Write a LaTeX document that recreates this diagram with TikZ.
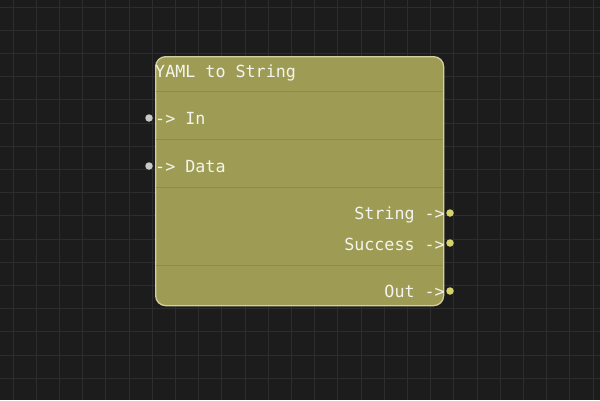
\documentclass[tikz,border=0pt]{standalone}
\usepackage{fontspec}
\setmonofont{DejaVu Sans Mono}
\definecolor{bg}{HTML}{1C1C1C}
\definecolor{gridc}{HTML}{2D2D2D}
\definecolor{nodefill}{HTML}{A4A257}
\definecolor{nodeborder}{HTML}{D2D09C}
\definecolor{sepc}{HTML}{8C8A55}
\definecolor{txt}{HTML}{F4F4EE}
\definecolor{inport}{HTML}{C8C8C8}
\definecolor{outport}{HTML}{D6D26C}
\tikzset{
  lbl/.style={inner sep=0pt, text=txt, font=\ttfamily\fontsize{16.7}{17}\selectfont},
  inp/.style={circle, fill=inport, inner sep=0pt, minimum size=7.5pt},
  outp/.style={circle, fill=outport, inner sep=0pt, minimum size=7.5pt},
  sep/.style={draw=sepc, line width=1pt}
}
\begin{document}
\begin{tikzpicture}[x=1pt,y=-1pt]
\useasboundingbox (0,0) rectangle (600,400);
\fill[bg] (0,0) rectangle (600,400);
\foreach \i in {0,...,25} {
  \draw[gridc, line width=1pt] ({13+23.2*\i},0) -- ({13+23.2*\i},400);
}
\foreach \j in {0,...,17} {
  \draw[gridc, line width=1pt] (0,{7+23.2*\j}) -- (600,{7+23.2*\j});
}
\node[draw=nodeborder, line width=1.3pt, fill=nodefill, fill opacity=0.96, rounded corners=10pt,
      minimum width=288pt, minimum height=249pt, inner sep=0pt, anchor=north west] (box) at (155,56) {};
\coordinate (s1l) at (155.6,91); \coordinate (s1r) at (442.4,91);
\coordinate (s2l) at (155.6,139); \coordinate (s2r) at (442.4,139);
\coordinate (s3l) at (155.6,187); \coordinate (s3r) at (442.4,187);
\coordinate (s4l) at (155.6,265); \coordinate (s4r) at (442.4,265);
\draw[sep] (s1l) -- (s1r);
\draw[sep] (s2l) -- (s2r);
\draw[sep] (s3l) -- (s3r);
\draw[sep] (s4l) -- (s4r);
\node[lbl, anchor=base west] (title) at (155,77) {YAML to String};
\node[lbl, anchor=base west] (in) at (155,124) {-> In};
\node[lbl, anchor=base west] (data) at (155,172) {-> Data};
\node[lbl, anchor=base east] (string) at (445,219) {String ->};
\node[lbl, anchor=base east] (success) at (445,250) {Success ->};
\node[lbl, anchor=base east] (out) at (445,297) {Out ->};
\node[inp] (pin) at (149,118) {};
\node[inp] (pdata) at (149,166) {};
\node[outp] (pstring) at (450,213) {};
\node[outp] (psuccess) at (450,243) {};
\node[outp] (pout) at (450,291) {};
\end{tikzpicture}
\end{document}
